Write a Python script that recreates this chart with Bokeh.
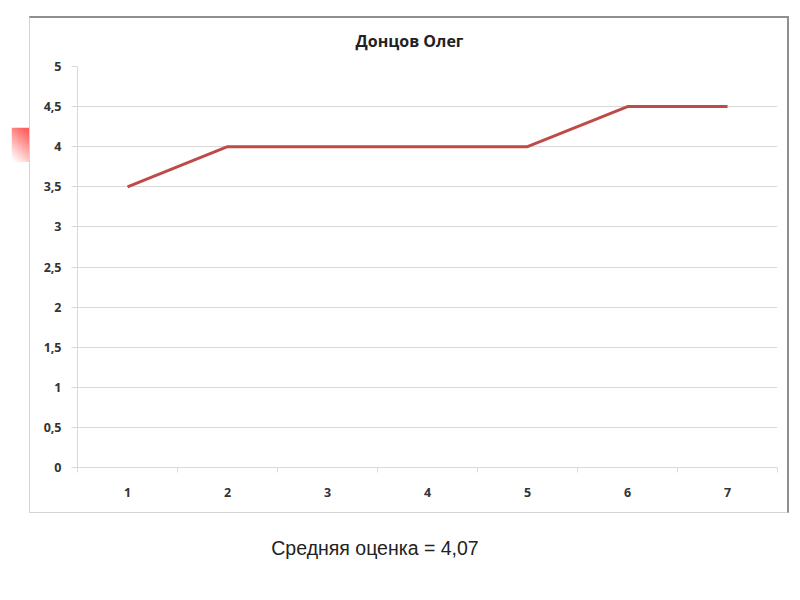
import numpy as np
from bokeh.plotting import figure
from bokeh.layouts import column, row
from bokeh.models import Range1d, FixedTicker, Spacer, Div, Title
from bokeh.embed import file_html
from bokeh.resources import INLINE

# ---- data ----
categories = [1, 2, 3, 4, 5, 6, 7]
scores = [3.5, 4, 4, 4, 4, 4.5, 4.5]
y_ticks = [0, 0.5, 1, 1.5, 2, 2.5, 3, 3.5, 4, 4.5, 5]
y_tick_labels = ["0", "0,5", "1", "1,5", "2", "2,5", "3", "3,5", "4", "4,5", "5"]
title_text = "Донцов Олег"
note_text = "Средняя оценка = 4,07"

GRID = "#d9d9d9"
FONT = "Open Sans"

# ---- main chart ----
p = figure(width=760, height=497, output_backend="svg", toolbar_location=None,
           title=None,
           x_range=Range1d(0.5, 7.5), y_range=Range1d(0, 5),
           min_border_left=47, min_border_right=13, min_border_top=48,
           min_border_bottom=48,
           styles={"border-top": "2px solid #8f8f8f", "border-right": "2px solid #8f8f8f",
                   "border-left": "1px solid #d4d4d4", "border-bottom": "1px solid #d4d4d4",
                   "box-sizing": "border-box"})
# white (invisible) spacer title between the frame and the real title
p.add_layout(Title(text=".", text_font_size="2px", text_color="white", standoff=7), "above")
p.add_layout(Title(text=title_text, align="left", offset=278, standoff=10,
                   text_font=FONT, text_font_style="bold", text_font_size="16px",
                   text_color="#222222"), "above")
p.outline_line_color = None
p.background_fill_color = "white"
p.border_fill_color = "white"

p.line(categories, scores, line_color="#BE4B48", line_width=3)

ya = p.yaxis[0]
ya.ticker = FixedTicker(ticks=y_ticks, minor_ticks=[])
ya.major_label_overrides = {t: l for t, l in zip(y_ticks, y_tick_labels)}
ya.axis_line_color = GRID
ya.major_tick_line_color = GRID
ya.major_tick_out = 6
ya.major_tick_in = 0
ya.minor_tick_line_color = None
ya.major_label_standoff = 10
ya.major_label_text_font = FONT
ya.major_label_text_font_style = "bold"
ya.major_label_text_font_size = "12.5px"
ya.major_label_text_color = "#333333"

xa = p.xaxis[0]
xa.ticker = FixedTicker(ticks=categories,
                        minor_ticks=[c - 0.5 for c in categories] + [categories[-1] + 0.5])
xa.axis_line_color = GRID
xa.major_tick_line_color = None
xa.major_tick_out = 0
xa.major_tick_in = 0
xa.minor_tick_line_color = GRID
xa.minor_tick_out = 5
xa.minor_tick_in = 0
xa.major_label_standoff = 15
xa.major_label_text_font = FONT
xa.major_label_text_font_style = "bold"
xa.major_label_text_font_size = "12.5px"
xa.major_label_text_color = "#333333"

p.xgrid.grid_line_color = None
p.ygrid.grid_line_color = GRID
p.ygrid.ticker = FixedTicker(ticks=y_ticks)

# ---- red gradient tab (decoration) ----
tw, th = 18, 35
tab = figure(width=tw, height=th, output_backend="svg", toolbar_location=None,
             x_range=Range1d(0, tw), y_range=Range1d(0, th),
             x_axis_type=None, y_axis_type=None, min_border=0)
tab.outline_line_color = None
tab.grid.visible = False
gx, gy = np.meshgrid(np.arange(tw), np.arange(th))
strength = np.clip(0.35 * (gx / (tw - 1)) + 0.8 * (gy / (th - 1)) - 0.05, 0, 1)
img = np.zeros((th, tw), dtype=np.uint32)
view = img.view(dtype=np.uint8).reshape((th, tw, 4))
view[:, :, 0] = 255
view[:, :, 1] = (255 - strength * 160).astype(np.uint8)
view[:, :, 2] = (255 - strength * 160).astype(np.uint8)
view[:, :, 3] = 255
tab.image_rgba(image=[img], x=0, y=0, dw=tw, dh=th)

note = Div(text=note_text, width=750, margin=(22, 0, 0, 0),
           styles={"font-family": "Liberation Sans", "font-size": "19.5px",
                   "color": "#222222", "text-align": "center", "width": "750px"})

layout = column(Spacer(height=16),
                row(Spacer(width=11), column(Spacer(height=111), tab), p),
                note)

open("out.html", "w").write(file_html(layout, INLINE))
